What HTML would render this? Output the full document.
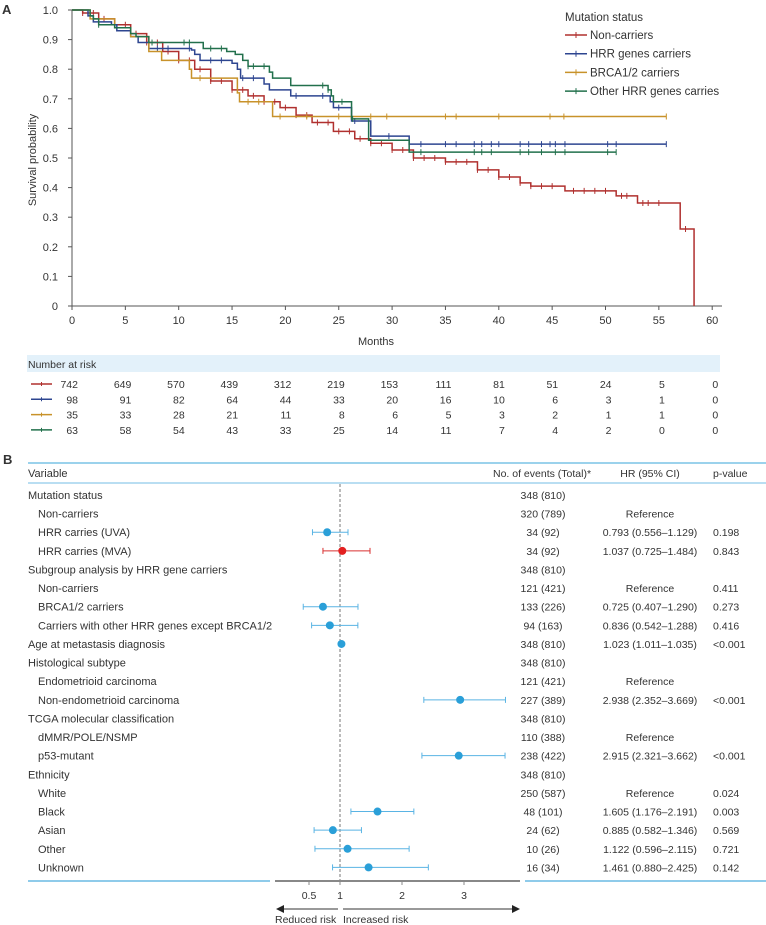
<!DOCTYPE html>
<html><head><meta charset="utf-8"><style>
body{margin:0;background:#fff;font-family:"Liberation Sans",sans-serif}
svg{display:block}
text{font-family:"Liberation Sans",sans-serif;fill:#333}
</style></head><body>
<svg id="s" width="766" height="925" viewBox="0 0 766 925"></svg>
<script>
// ---- KM data ----
const redT=[0,1,2.5,4,5.5,7,8.5,10,11.5,13,15,16.5,18,19.5,21,22.5,24.5,26.5,28,30,32,35,38,40,42,43,46.2,51,53,57,58.3];
const redS=[1,0.99,0.97,0.95,0.92,0.89,0.86,0.83,0.80,0.76,0.73,0.71,0.69,0.67,0.645,0.62,0.59,0.565,0.55,0.527,0.50,0.487,0.46,0.436,0.416,0.405,0.389,0.372,0.348,0.26,0];
const redC=[1,2,3,4,5,6,7,8,9,10,11,12,13,14,15,16,17,18,19,20,21,22,23,24,25,26,27,28,29,30,31,32,33,34,35,36,37,38,39,40,41,42,43,44,45,47,48,49,50,51.5,52,53.5,54,55,57.5];
const bluT=[0,1.5,2,3.7,4.2,5.5,6.2,7.2,11.2,11.5,12,15,15.5,15.8,18,18.5,20.5,24.2,24.5,26.2,28,31.6];
const bluS=[1,0.98,0.96,0.95,0.93,0.91,0.89,0.87,0.865,0.85,0.83,0.82,0.80,0.77,0.75,0.73,0.71,0.69,0.67,0.625,0.574,0.547];
const bluEnd=55.7;
const bluC=[8,9,11,13,14,16,17,21,23.5,25,26.5,29.7,32.7,35,36,37.7,38.4,39.3,40,42,42.8,44,44.8,45.3,46.2,50.2,51,55.7];
const yelT=[0,1.7,4,5.5,7.2,8.4,11,11.2,15.5,15.7,18.8];
const yelS=[1,0.97,0.94,0.91,0.86,0.83,0.80,0.77,0.72,0.69,0.64];
const yelEnd=55.7;
const yelC=[12,16.5,17.5,19.5,22,25,28,29.5,35,36,40,44.8,46.1,55.7];
const grnT=[0,1.7,2,2.5,4,5.5,6,7.2,12.3,14.5,15.3,16,16.5,18.5,18.8,20.5,24,24.3,24.5,26.2,27.8,31.6];
const grnS=[1,0.98,0.97,0.95,0.94,0.92,0.91,0.89,0.87,0.86,0.85,0.83,0.81,0.79,0.77,0.745,0.73,0.71,0.69,0.632,0.56,0.52];
const grnEnd=51;
const grnC=[2.5,7.5,10.5,11,13,14,16.5,17,18,23.5,24,25.3,26.3,32.7,37.7,38.4,39.3,42,42.8,44,45.3,46.2,50.2,51];
const riskTimes=[0,5,10,15,20,25,30,35,40,45,50,55,60];
const riskRed=[742,649,570,439,312,219,153,111,81,51,24,5,0];
const riskBlue=[98,91,82,64,44,33,20,16,10,6,3,1,0];
const riskYel=[35,33,28,21,11,8,6,5,3,2,1,1,0];
const riskGrn=[63,58,54,43,33,25,14,11,7,4,2,0,0];
// ---- Forest data ----
const rowLabels=["Mutation status","Non-carriers","HRR carries (UVA)","HRR carries (MVA)","Subgroup analysis by HRR gene carriers","Non-carriers","BRCA1/2 carriers","Carriers with other HRR genes except BRCA1/2","Age at metastasis diagnosis","Histological subtype","Endometrioid carcinoma","Non-endometrioid carcinoma","TCGA molecular classification","dMMR/POLE/NSMP","p53-mutant","Ethnicity","White","Black","Asian","Other","Unknown"];
const rowIndent=[0,1,1,1,0,1,1,1,0,0,1,1,0,1,1,0,1,1,1,1,1];
const rowEvents=["348 (810)","320 (789)","34 (92)","34 (92)","348 (810)","121 (421)","133 (226)","94 (163)","348 (810)","348 (810)","121 (421)","227 (389)","348 (810)","110 (388)","238 (422)","348 (810)","250 (587)","48 (101)","24 (62)","10 (26)","16 (34)"];
const rowHRtext=["","Reference","0.793 (0.556–1.129)","1.037 (0.725–1.484)","","Reference","0.725 (0.407–1.290)","0.836 (0.542–1.288)","1.023 (1.011–1.035)","","Reference","2.938 (2.352–3.669)","","Reference","2.915 (2.321–3.662)","","Reference","1.605 (1.176–2.191)","0.885 (0.582–1.346)","1.122 (0.596–2.115)","1.461 (0.880–2.425)"];
const rowP=["","","0.198","0.843","","0.411","0.273","0.416","<0.001","","","<0.001","","","<0.001","","0.024","0.003","0.569","0.721","0.142"];
const hr=[null,null,0.793,1.037,null,null,0.725,0.836,1.023,null,null,2.938,null,null,2.915,null,null,1.605,0.885,1.122,1.461];
const lo=[null,null,0.556,0.725,null,null,0.407,0.542,1.011,null,null,2.352,null,null,2.321,null,null,1.176,0.582,0.596,0.880];
const hi=[null,null,1.129,1.484,null,null,1.290,1.288,1.035,null,null,3.669,null,null,3.662,null,null,2.191,1.346,2.115,2.425];
const fTicks=[0.5,1,2,3];

const S=document.getElementById('s');const NS="http://www.w3.org/2000/svg";
function el(t,a,txt){const e=document.createElementNS(NS,t);for(const k in a)e.setAttribute(k,a[k]);if(txt!==undefined)e.textContent=txt;S.appendChild(e);return e;}
const X=t=>72+t*10.67, Y=v=>306-v*296;
let e=el('text',{x:2,y:14,'font-size':13,'font-weight':'bold',fill:'#222'},'A');

e=el('text',{x:3,y:464,'font-size':13,'font-weight':'bold',fill:'#222'},'B');

e=el('line',{x1:X(0),y1:Y(1),x2:X(0),y2:Y(0),stroke:'#555'});
e=el('line',{x1:X(0),y1:Y(0),x2:722,y2:Y(0),stroke:'#555'});
for(let i=0;i<=10;i++){const v=i/10;el('line',{x1:X(0)-4,x2:X(0),y1:Y(v),y2:Y(v),stroke:'#555'});
 e=el('text',{x:58,y:Y(v)+4,'font-size':11,'text-anchor':'end'},i==0?'0':v.toFixed(1));}
for(const t of riskTimes){el('line',{x1:X(t),x2:X(t),y1:Y(0),y2:Y(0)+4,stroke:'#555'});
 e=el('text',{x:X(t),y:324,'font-size':11,'text-anchor':'middle'},t);}
e=el('text',{x:376,y:345,'font-size':11,'text-anchor':'middle'},'Months');
e=el('text',{x:36,y:160,'font-size':11,'text-anchor':'middle',transform:'rotate(-90 36 160)'},'Survival probability');
function sAt(T,Sv,t){let s=Sv[0];for(let i=0;i<T.length;i++)if(T[i]<=t)s=Sv[i];return s;}
function curve(T,Sv,end,C,col,name){let d='M'+X(T[0])+','+Y(Sv[0]);
 for(let i=1;i<T.length;i++){d+='H'+X(T[i])+'V'+Y(Sv[i]);}
 d+='H'+X(end);
 let p=el('path',{d:d,fill:'none',stroke:col,'stroke-width':1.5});
 
 let cd='';for(const t of C){const y=Y(sAt(T,Sv,t));cd+='M'+X(t)+','+(y-3)+'V'+(y+3);}
 p=el('path',{d:cd,stroke:col,'stroke-width':1});}
curve(redT,redS,58.3,redC,'#b0302f','non-carriers');
curve(bluT,bluS,bluEnd,bluC,'#2d4590','hrr-carriers');
curve(yelT,yelS,yelEnd,yelC,'#c8922a','brca-carriers');
curve(grnT,grnS,grnEnd,grnC,'#22704c','other-hrr-carriers');
e=el('text',{x:565,y:21,'font-size':11.5},'Mutation status');
const lg=[['Non-carriers','#b0302f'],['HRR genes carriers','#2d4590'],['BRCA1/2 carriers','#c8922a'],['Other HRR genes carries','#22704c']];
lg.forEach((l,i)=>{const y=35+i*18.7;el('line',{x1:565,x2:587,y1:y,y2:y,stroke:l[1],'stroke-width':1.5});el('line',{x1:576,x2:576,y1:y-3,y2:y+3,stroke:l[1]});
 e=el('text',{x:590,y:y+4,'font-size':11.5},l[0]);});
// risk table
e=el('rect',{x:27,y:355,width:693,height:17,fill:'#e3f1fa'});
el('text',{x:28,y:368,'font-size':10.5},'Number at risk');
[[riskRed,'#b0302f'],[riskBlue,'#2d4590'],[riskYel,'#c8922a'],[riskGrn,'#22704c']].forEach((r,i)=>{const y=384+i*15.3;
 el('line',{x1:31,x2:52,y1:y,y2:y,stroke:r[1],'stroke-width':1.5});el('line',{x1:41.5,x2:41.5,y1:y-2,y2:y+2,stroke:r[1]});
 r[0].forEach((n,j)=>{e=el('text',{x:X(riskTimes[j])+6,y:y+4,'font-size':10.5,'text-anchor':'end'},n);});});
// forest
const FX=v=>340+(v-1)*62;
el('line',{x1:28,x2:766,y1:463,y2:463,stroke:'#5fb6e0','stroke-width':1.2});
el('line',{x1:28,x2:766,y1:483,y2:483,stroke:'#8fcbea','stroke-width':1.2});
el('text',{x:28,y:477,'font-size':11},'Variable');
el('text',{x:493,y:477,'font-size':10.5},'No. of events (Total)*');
el('text',{x:650,y:477,'font-size':10.5,'text-anchor':'middle'},'HR (95% CI)');
el('text',{x:713,y:477,'font-size':10.5},'p-value');
e=el('line',{x1:340,x2:340,y1:484,y2:881,stroke:'#777','stroke-dasharray':'3,2'});
rowLabels.forEach((lab,i)=>{const y=495+i*18.62;
 e=el('text',{x:rowIndent[i]?38:28,y:y+4,'font-size':11},lab);
 el('text',{x:543,y:y+4,'font-size':10.5,'text-anchor':'middle'},rowEvents[i]);
 el('text',{x:650,y:y+4,'font-size':10.5,'text-anchor':'middle'},rowHRtext[i]);
 el('text',{x:713,y:y+4,'font-size':10.5},rowP[i]);
 if(hr[i]!==null){const red=i==3;const cc=red?'#d93030':'#5ab4e4';
  e=el('path',{d:'M'+FX(lo[i])+','+y+'H'+FX(hi[i])+'M'+FX(lo[i])+','+(y-3)+'V'+(y+3)+'M'+FX(hi[i])+','+(y-3)+'V'+(y+3),stroke:cc,'stroke-width':1});
  e=el('circle',{cx:FX(hr[i]),cy:y,r:4,fill:red?'#e32020':'#2a9fd8'});}
});
el('line',{x1:28,x2:270,y1:881,y2:881,stroke:'#8fcbea','stroke-width':2});
el('line',{x1:525,x2:766,y1:881,y2:881,stroke:'#8fcbea','stroke-width':2});
e=el('line',{x1:275,x2:520,y1:881,y2:881,stroke:'#888','stroke-width':2});
fTicks.forEach(t=>{el('line',{x1:FX(t),x2:FX(t),y1:881,y2:885,stroke:'#888'});
 e=el('text',{x:FX(t),y:899,'font-size':10.5,'text-anchor':'middle'},t);});
el('path',{d:'M338,909H283',stroke:'#333'});el('path',{d:'M276,909l8,-4v8z',fill:'#222'});
el('path',{d:'M343,909H512',stroke:'#333'});el('path',{d:'M520,909l-8,-4v8z',fill:'#222'});
el('text',{x:275,y:923,'font-size':10.5},'Reduced risk');
el('text',{x:343,y:923,'font-size':10.5},'Increased risk');
</script>
</body></html>
